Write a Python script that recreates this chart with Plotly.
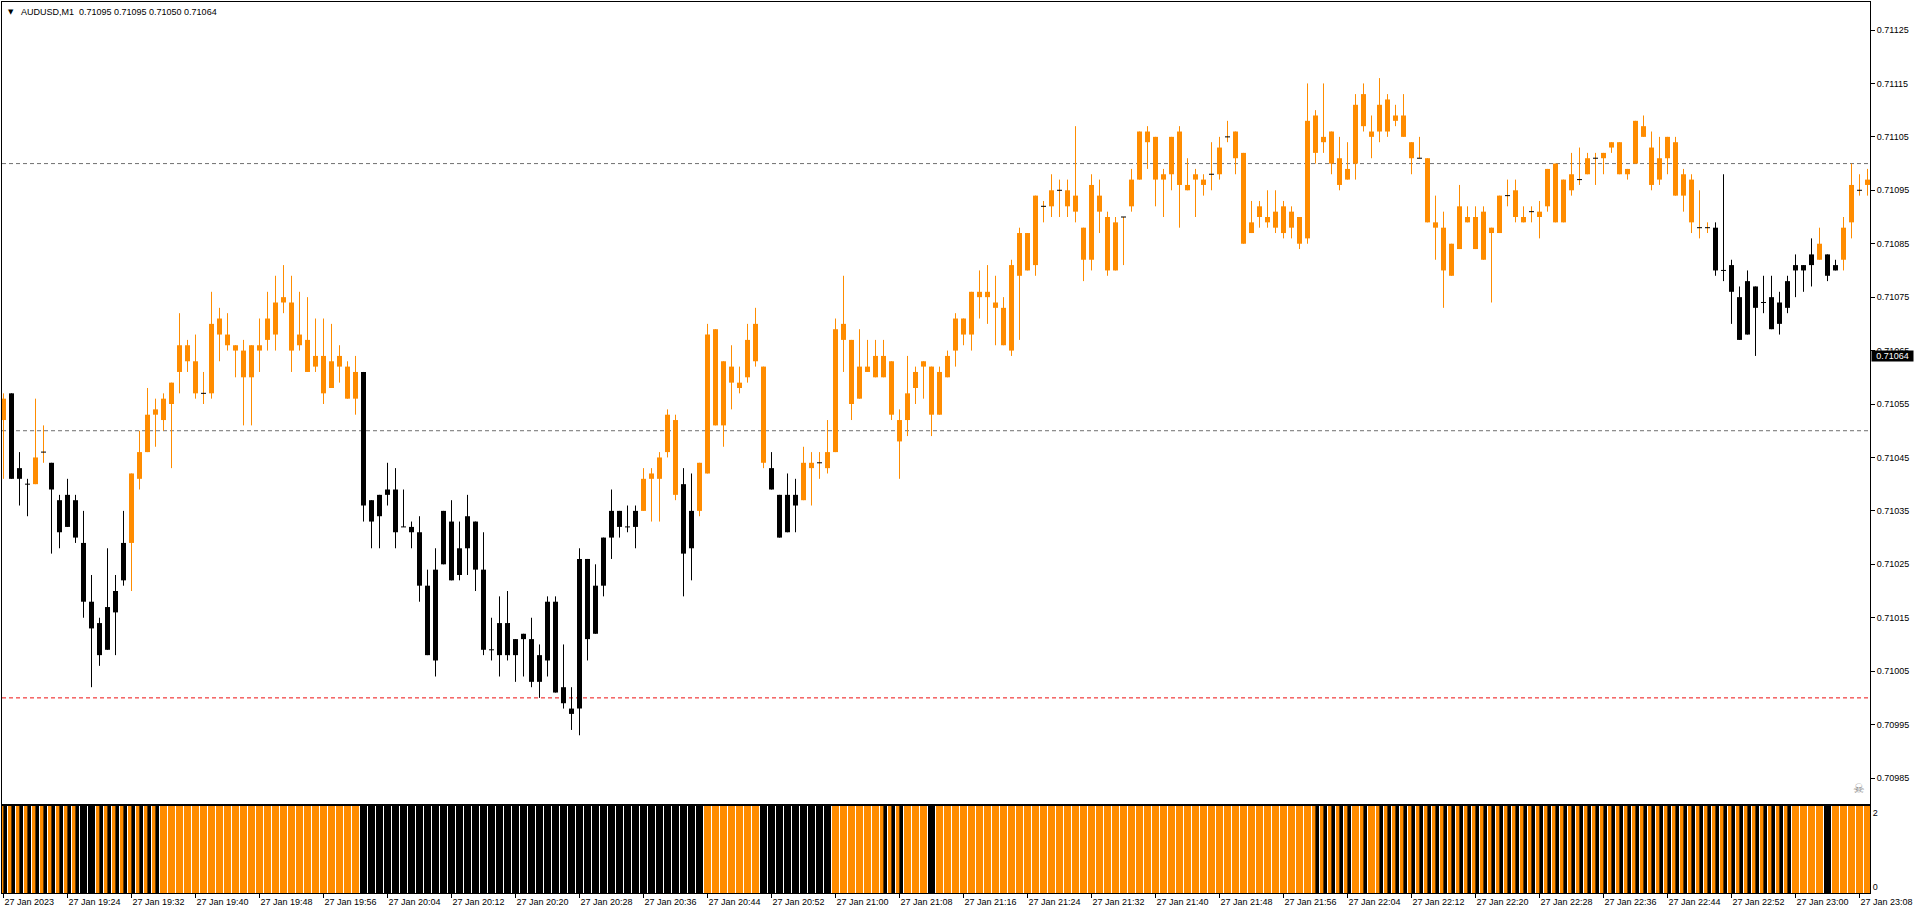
import pandas as pd
import plotly.graph_objects as go

# ---------------- data ----------------
header_symbol = "AUDUSD,M1"
header_values = "0.71095 0.71095 0.71050 0.71064"
start_time = "2023-01-27 19:16"
last_price = 0.71064

open_ = [
    0.71052, 0.71057, 0.71043, 0.71040, 0.71040, 0.71046, 0.71044, 0.71037, 0.71032, 0.71037,
    0.71029, 0.71018, 0.71014, 0.71009, 0.71016, 0.71022, 0.71029, 0.71041, 0.71046, 0.71053,
    0.71052, 0.71055, 0.71061, 0.71066, 0.71063, 0.71057, 0.71057, 0.71068, 0.71068, 0.71066,
    0.71065, 0.71060, 0.71066, 0.71067, 0.71068, 0.71074, 0.71074, 0.71066, 0.71067, 0.71062,
    0.71064, 0.71058, 0.71062, 0.71062, 0.71056, 0.71061, 0.71037, 0.71034, 0.71038, 0.71039,
    0.71032, 0.71032, 0.71031, 0.71021, 0.71007, 0.71025, 0.71033, 0.71023, 0.71028, 0.71033,
    0.71024, 0.71009, 0.71008, 0.71014, 0.71008, 0.71011, 0.71011, 0.71003, 0.71007, 0.71018,
    0.71002, 0.70998, 0.70998, 0.71026, 0.71012, 0.71021, 0.71030, 0.71035, 0.71032, 0.71032,
    0.71035, 0.71041, 0.71041, 0.71046, 0.71052, 0.71040, 0.71028, 0.71035, 0.71042, 0.71069,
    0.71051, 0.71062, 0.71059, 0.71060, 0.71063, 0.71062, 0.71043, 0.71038, 0.71031, 0.71038,
    0.71037, 0.71044, 0.71044, 0.71043, 0.71046, 0.71070, 0.71067, 0.71056, 0.71062, 0.71060,
    0.71064, 0.71063, 0.71052, 0.71052, 0.71058, 0.71062, 0.71062, 0.71053, 0.71060, 0.71065,
    0.71071, 0.71068, 0.71076, 0.71075, 0.71074, 0.71073, 0.71065, 0.71079, 0.71087, 0.71081,
    0.71092, 0.71092, 0.71095, 0.71095, 0.71091, 0.71088, 0.71082, 0.71094, 0.71090, 0.71080,
    0.71090, 0.71092, 0.71097, 0.71106, 0.71105, 0.71097, 0.71098, 0.71106, 0.71096, 0.71097,
    0.71097, 0.71098, 0.71098, 0.71105, 0.71106, 0.71102, 0.71087, 0.71090, 0.71090, 0.71088,
    0.71092, 0.71088, 0.71090, 0.71086, 0.71109, 0.71104, 0.71106, 0.71101, 0.71097, 0.71100,
    0.71113, 0.71106, 0.71106, 0.71112, 0.71108, 0.71109, 0.71104, 0.71101, 0.71101, 0.71089,
    0.71088, 0.71079, 0.71084, 0.71090, 0.71090, 0.71091, 0.71087, 0.71087, 0.71094, 0.71095,
    0.71090, 0.71091, 0.71091, 0.71092, 0.71100, 0.71089, 0.71095, 0.71097, 0.71098, 0.71101,
    0.71101, 0.71103, 0.71104, 0.71098, 0.71100, 0.71107, 0.71103, 0.71097, 0.71101, 0.71104,
    0.71098, 0.71097, 0.71088, 0.71088, 0.71088, 0.71080, 0.71081, 0.71075, 0.71068, 0.71077,
    0.71074, 0.71075, 0.71070, 0.71073, 0.71080, 0.71081, 0.71081, 0.71082, 0.71083, 0.71080,
    0.71082, 0.71089, 0.71095, 0.71096,
]

high = [
    0.71057, 0.71057, 0.71046, 0.71041, 0.71056, 0.71051, 0.71044, 0.71038, 0.71041, 0.71038,
    0.71035, 0.71023, 0.71015, 0.71028, 0.71023, 0.71035, 0.71042, 0.71050, 0.71058, 0.71056,
    0.71057, 0.71059, 0.71072, 0.71067, 0.71068, 0.71061, 0.71076, 0.71073, 0.71072, 0.71066,
    0.71067, 0.71066, 0.71071, 0.71076, 0.71079, 0.71081, 0.71079, 0.71076, 0.71075, 0.71071,
    0.71071, 0.71070, 0.71066, 0.71063, 0.71064, 0.71061, 0.71037, 0.71038, 0.71044, 0.71043,
    0.71039, 0.71033, 0.71034, 0.71024, 0.71028, 0.71035, 0.71037, 0.71033, 0.71038, 0.71033,
    0.71031, 0.71015, 0.71019, 0.71020, 0.71011, 0.71012, 0.71015, 0.71010, 0.71019, 0.71019,
    0.71010, 0.71002, 0.71028, 0.71026, 0.71025, 0.71030, 0.71039, 0.71035, 0.71036, 0.71036,
    0.71043, 0.71043, 0.71046, 0.71054, 0.71053, 0.71043, 0.71042, 0.71044, 0.71070, 0.71069,
    0.71063, 0.71066, 0.71062, 0.71070, 0.71073, 0.71062, 0.71046, 0.71038, 0.71042, 0.71041,
    0.71047, 0.71046, 0.71046, 0.71052, 0.71071, 0.71079, 0.71067, 0.71069, 0.71067, 0.71067,
    0.71067, 0.71063, 0.71054, 0.71064, 0.71062, 0.71063, 0.71062, 0.71062, 0.71065, 0.71072,
    0.71071, 0.71076, 0.71080, 0.71081, 0.71079, 0.71075, 0.71082, 0.71088, 0.71087, 0.71094,
    0.71093, 0.71098, 0.71097, 0.71097, 0.71107, 0.71088, 0.71098, 0.71097, 0.71091, 0.71090,
    0.71090, 0.71099, 0.71106, 0.71107, 0.71105, 0.71099, 0.71105, 0.71107, 0.71101, 0.71099,
    0.71098, 0.71104, 0.71105, 0.71108, 0.71106, 0.71102, 0.71093, 0.71093, 0.71095, 0.71095,
    0.71093, 0.71092, 0.71090, 0.71115, 0.71110, 0.71115, 0.71106, 0.71105, 0.71104, 0.71113,
    0.71115, 0.71109, 0.71116, 0.71113, 0.71111, 0.71113, 0.71104, 0.71105, 0.71101, 0.71094,
    0.71091, 0.71085, 0.71096, 0.71092, 0.71092, 0.71092, 0.71088, 0.71094, 0.71097, 0.71097,
    0.71092, 0.71092, 0.71093, 0.71099, 0.71100, 0.71097, 0.71102, 0.71103, 0.71102, 0.71102,
    0.71102, 0.71104, 0.71104, 0.71099, 0.71108, 0.71109, 0.71106, 0.71105, 0.71105, 0.71105,
    0.71099, 0.71098, 0.71095, 0.71089, 0.71089, 0.71098, 0.71082, 0.71077, 0.71080, 0.71077,
    0.71079, 0.71079, 0.71076, 0.71079, 0.71083, 0.71081, 0.71086, 0.71088, 0.71083, 0.71082,
    0.71090, 0.71100, 0.71098, 0.71099,
]

low = [
    0.71041, 0.71041, 0.71036, 0.71034, 0.71040, 0.71044, 0.71027, 0.71028, 0.71032, 0.71029,
    0.71015, 0.71002, 0.71006, 0.71009, 0.71008, 0.71021, 0.71020, 0.71039, 0.71046, 0.71047,
    0.71050, 0.71043, 0.71057, 0.71061, 0.71056, 0.71055, 0.71056, 0.71063, 0.71065, 0.71060,
    0.71051, 0.71051, 0.71061, 0.71065, 0.71065, 0.71072, 0.71061, 0.71065, 0.71061, 0.71061,
    0.71055, 0.71058, 0.71059, 0.71056, 0.71053, 0.71033, 0.71028, 0.71028, 0.71036, 0.71028,
    0.71032, 0.71028, 0.71018, 0.71008, 0.71004, 0.71025, 0.71022, 0.71022, 0.71023, 0.71020,
    0.71008, 0.71007, 0.71004, 0.71007, 0.71003, 0.71004, 0.71002, 0.71000, 0.71004, 0.71001,
    0.70998, 0.70994, 0.70993, 0.71007, 0.71012, 0.71019, 0.71026, 0.71030, 0.71031, 0.71028,
    0.71035, 0.71033, 0.71033, 0.71045, 0.71037, 0.71019, 0.71022, 0.71034, 0.71042, 0.71051,
    0.71047, 0.71054, 0.71057, 0.71059, 0.71062, 0.71043, 0.71039, 0.71030, 0.71031, 0.71031,
    0.71037, 0.71036, 0.71041, 0.71042, 0.71046, 0.71061, 0.71052, 0.71056, 0.71061, 0.71060,
    0.71060, 0.71052, 0.71041, 0.71049, 0.71055, 0.71056, 0.71049, 0.71053, 0.71060, 0.71062,
    0.71066, 0.71065, 0.71071, 0.71070, 0.71066, 0.71066, 0.71064, 0.71067, 0.71080, 0.71079,
    0.71089, 0.71090, 0.71090, 0.71090, 0.71089, 0.71078, 0.71080, 0.71087, 0.71079, 0.71080,
    0.71081, 0.71091, 0.71097, 0.71099, 0.71092, 0.71090, 0.71095, 0.71088, 0.71095, 0.71090,
    0.71094, 0.71095, 0.71097, 0.71104, 0.71098, 0.71085, 0.71087, 0.71088, 0.71088, 0.71087,
    0.71086, 0.71086, 0.71084, 0.71085, 0.71100, 0.71102, 0.71098, 0.71095, 0.71097, 0.71097,
    0.71106, 0.71101, 0.71104, 0.71105, 0.71107, 0.71105, 0.71098, 0.71101, 0.71089, 0.71082,
    0.71073, 0.71079, 0.71084, 0.71089, 0.71084, 0.71082, 0.71074, 0.71087, 0.71092, 0.71089,
    0.71089, 0.71089, 0.71086, 0.71091, 0.71089, 0.71089, 0.71094, 0.71096, 0.71098, 0.71096,
    0.71098, 0.71102, 0.71098, 0.71097, 0.71100, 0.71105, 0.71095, 0.71096, 0.71098, 0.71094,
    0.71091, 0.71087, 0.71086, 0.71087, 0.71079, 0.71078, 0.71070, 0.71067, 0.71068, 0.71064,
    0.71072, 0.71069, 0.71068, 0.71072, 0.71075, 0.71076, 0.71077, 0.71082, 0.71078, 0.71080,
    0.71080, 0.71086, 0.71094, 0.71094,
]

close = [
    0.71056, 0.71041, 0.71041, 0.71040, 0.71045, 0.71046, 0.71039, 0.71031, 0.71038, 0.71030,
    0.71018, 0.71013, 0.71008, 0.71017, 0.71020, 0.71029, 0.71042, 0.71046, 0.71053, 0.71054,
    0.71056, 0.71059, 0.71066, 0.71063, 0.71057, 0.71057, 0.71070, 0.71071, 0.71066, 0.71065,
    0.71060, 0.71066, 0.71065, 0.71071, 0.71074, 0.71075, 0.71065, 0.71068, 0.71061, 0.71064,
    0.71057, 0.71063, 0.71064, 0.71056, 0.71061, 0.71036, 0.71033, 0.71038, 0.71039, 0.71031,
    0.71032, 0.71031, 0.71021, 0.71008, 0.71024, 0.71035, 0.71022, 0.71028, 0.71034, 0.71024,
    0.71009, 0.71009, 0.71014, 0.71008, 0.71011, 0.71012, 0.71003, 0.71008, 0.71018, 0.71001,
    0.70999, 0.70997, 0.71026, 0.71011, 0.71021, 0.71030, 0.71035, 0.71032, 0.71032, 0.71035,
    0.71041, 0.71042, 0.71045, 0.71053, 0.71038, 0.71027, 0.71035, 0.71044, 0.71068, 0.71051,
    0.71063, 0.71059, 0.71058, 0.71067, 0.71070, 0.71044, 0.71039, 0.71030, 0.71038, 0.71036,
    0.71044, 0.71043, 0.71044, 0.71046, 0.71069, 0.71067, 0.71055, 0.71062, 0.71061, 0.71064,
    0.71060, 0.71053, 0.71048, 0.71057, 0.71061, 0.71063, 0.71053, 0.71061, 0.71064, 0.71071,
    0.71068, 0.71076, 0.71075, 0.71076, 0.71073, 0.71066, 0.71081, 0.71087, 0.71080, 0.71094,
    0.71092, 0.71095, 0.71095, 0.71092, 0.71094, 0.71082, 0.71096, 0.71091, 0.71080, 0.71089,
    0.71090, 0.71097, 0.71106, 0.71104, 0.71097, 0.71098, 0.71105, 0.71096, 0.71095, 0.71098,
    0.71096, 0.71098, 0.71103, 0.71105, 0.71101, 0.71085, 0.71089, 0.71092, 0.71089, 0.71091,
    0.71087, 0.71091, 0.71085, 0.71108, 0.71102, 0.71105, 0.71100, 0.71096, 0.71099, 0.71111,
    0.71107, 0.71105, 0.71111, 0.71106, 0.71109, 0.71105, 0.71101, 0.71101, 0.71089, 0.71088,
    0.71080, 0.71085, 0.71092, 0.71089, 0.71084, 0.71082, 0.71088, 0.71094, 0.71094, 0.71090,
    0.71089, 0.71091, 0.71090, 0.71099, 0.71089, 0.71097, 0.71098, 0.71097, 0.71101, 0.71101,
    0.71102, 0.71104, 0.71098, 0.71099, 0.71108, 0.71105, 0.71096, 0.71101, 0.71105, 0.71094,
    0.71094, 0.71089, 0.71088, 0.71088, 0.71080, 0.71080, 0.71076, 0.71067, 0.71078, 0.71073,
    0.71074, 0.71069, 0.71074, 0.71078, 0.71081, 0.71080, 0.71083, 0.71085, 0.71079, 0.71081,
    0.71088, 0.71096, 0.71095, 0.71097,
]

# indicator colouring of each candle: O = orange, B = black
candle_color = (
    "OBBBOOBBBB" "BBBBBBOOOO" "OOOOOOOOOO" "OOOOOOOOOO" "OOOOOBBBBB"
    "BBBBBBBBBB" "BBBBBBBBBB" "BBBBBBBBBB" "OOOOOBBOOO" "OOOOOOBBBB"
    "OOOOOOOOOO" "OOOOOOOOOO" "OOOOOOOOOO" "OOOOOOOOOO" "OOOOOOOOOO"
    "OOOOOOOOOO" "OOOOOOOOOO" "OOOOOOOOOO" "OOOOOOOOOO" "OOOOOOOOOO"
    "OOOOOOOOOO" "OOOOBBBBBB" "BBBBBBBOBB" "OOOO"
)

# lower indicator state per bar: 0 = orange, 1 = black, 2 = mixed (orange + black stripe)
osc_state = (
    "2222222222" "1122222222" "0000000000" "0000000000" "0000011111"
    "1111111111" "1111111111" "1111111111" "1111111100" "0000011111"
    "1111000000" "2220001000" "0000000000" "0000000000" "0000000000"
    "0000000000" "0000222220" "2022222222" "2222222222" "2222222222"
    "2222222222" "2222222222" "2222000010" "0000"
)
osc_level = 2

tick_labels = [
    "27 Jan 2023", "27 Jan 19:24", "27 Jan 19:32", "27 Jan 19:40", "27 Jan 19:48",
    "27 Jan 19:56", "27 Jan 20:04", "27 Jan 20:12", "27 Jan 20:20", "27 Jan 20:28",
    "27 Jan 20:36", "27 Jan 20:44", "27 Jan 20:52", "27 Jan 21:00", "27 Jan 21:08",
    "27 Jan 21:16", "27 Jan 21:24", "27 Jan 21:32", "27 Jan 21:40", "27 Jan 21:48",
    "27 Jan 21:56", "27 Jan 22:04", "27 Jan 22:12", "27 Jan 22:20", "27 Jan 22:28",
    "27 Jan 22:36", "27 Jan 22:44", "27 Jan 22:52", "27 Jan 23:00", "27 Jan 23:08",
]
price_ticks = [0.70985, 0.70995, 0.71005, 0.71015, 0.71025, 0.71035, 0.71045, 0.71055,
               0.71065, 0.71075, 0.71085, 0.71095, 0.71105, 0.71115, 0.71125]
levels = [0.71100, 0.71050, 0.71000]
level_colors = ["#6f6f6f", "#6f6f6f", "#ee1111"]

# ---------------- styling ----------------
ORANGE = "#FF8C00"
BLACK = "#000000"
COLORS = {"O": ORANGE, "B": BLACK}
FONT = "Liberation Sans, Arial, sans-serif"

n = len(open_)
times = pd.date_range(start_time, periods=n, freq="min")
MIN_MS = 60000.0
half_body = pd.Timedelta(milliseconds=0.3125 * MIN_MS)


def ts(t):
    return t.strftime("%Y-%m-%d %H:%M:%S.%f")[:-3]


fig = go.Figure()

# candles
for key, col in COLORS.items():
    idx = [i for i in range(n) if candle_color[i] == key]
    wx, wy = [], []
    for i in idx:
        wx += [ts(times[i]), ts(times[i]), None]
        wy += [low[i], high[i], None]
    fig.add_trace(go.Scatter(x=wx, y=wy, mode="lines", line=dict(color=col, width=1),
                             hoverinfo="skip", xaxis="x", yaxis="y"))
    bidx = [i for i in idx if open_[i] != close[i]]
    fig.add_trace(go.Bar(
        x=[ts(times[i]) for i in bidx],
        base=[min(open_[i], close[i]) for i in bidx],
        y=[abs(close[i] - open_[i]) for i in bidx],
        width=0.625 * MIN_MS,
        marker=dict(color=col, line=dict(width=0)),
        hoverinfo="skip", xaxis="x", yaxis="y"))

# doji dashes
dx, dy = [], []
for i in range(n):
    if open_[i] == close[i]:
        dx += [ts(times[i] - half_body), ts(times[i] + half_body), None]
        dy += [open_[i], open_[i], None]
fig.add_trace(go.Scatter(x=dx, y=dy, mode="lines", line=dict(color=BLACK, width=1),
                         hoverinfo="skip", xaxis="x", yaxis="y"))

# lower indicator panel
o_idx = [i for i in range(n) if osc_state[i] in "02"]
b_idx = [i for i in range(n) if osc_state[i] == "1"]
s_idx = [i for i in range(n) if osc_state[i] == "2"]
fig.add_trace(go.Bar(x=[ts(times[i]) for i in o_idx], y=[osc_level] * len(o_idx),
                     width=0.875 * MIN_MS, marker=dict(color=ORANGE, line=dict(width=0)),
                     hoverinfo="skip", xaxis="x2", yaxis="y2"))
fig.add_trace(go.Bar(x=[ts(times[i]) for i in b_idx], y=[osc_level] * len(b_idx),
                     width=0.875 * MIN_MS, marker=dict(color=BLACK, line=dict(width=0)),
                     hoverinfo="skip", xaxis="x2", yaxis="y2"))
fig.add_trace(go.Bar(x=[ts(times[i]) for i in s_idx], y=[osc_level] * len(s_idx),
                     width=0.45 * MIN_MS, offset=-0.0125 * MIN_MS,
                     marker=dict(color=BLACK, line=dict(width=0)),
                     hoverinfo="skip", xaxis="x2", yaxis="y2"))

x_range = [ts(times[0] - pd.Timedelta(milliseconds=0.1875 * MIN_MS)),
           ts(times[0] + pd.Timedelta(milliseconds=233.3125 * MIN_MS))]

shapes = []
for lv, lc in zip(levels, level_colors):
    shapes.append(dict(type="line", xref="paper", x0=0, x1=1, yref="y", y0=lv, y1=lv,
                       line=dict(color=lc, width=1, dash="4px,3px"), layer="below"))

axis_common = dict(showgrid=False, zeroline=False, showline=True, mirror=True,
                   linecolor="black", linewidth=1, fixedrange=True, automargin=False)

fig.update_layout(
    width=1916, height=915,
    margin=dict(l=2, r=46, t=2, b=22, pad=0),
    paper_bgcolor="white", plot_bgcolor="white",
    barmode="overlay", showlegend=False,
    font=dict(family=FONT, size=9, color="black"),
    xaxis=dict(type="date", domain=[0, 1], range=x_range, anchor="y",
               showticklabels=False, ticks="", **axis_common),
    yaxis=dict(domain=[0.09989, 1], range=[0.7098014, 0.7113024], side="right", anchor="x",
               tickvals=price_ticks, tickformat=".5f", ticks="outside", ticklen=4,
               tickcolor="black", **axis_common),
    xaxis2=dict(type="date", domain=[0, 1], range=x_range, anchor="y2", matches="x",
                tickvals=[ts(times[k]) for k in range(0, n, 8)], ticktext=tick_labels,
                ticks="outside", ticklen=4, tickcolor="black",
                ticklabelposition="outside right", **axis_common),
    yaxis2=dict(domain=[0, 0.09764], range=[0, 2], side="right", anchor="x2",
                tickvals=[0.138, 1.839], ticktext=["0", "2"], ticks="", **axis_common),
    shapes=shapes,
    annotations=[
        dict(text="\u25BC", xref="paper", yref="paper", x=0, y=1, xanchor="left",
             yanchor="top", xshift=4, yshift=-4, showarrow=False,
             font=dict(family="DejaVu Sans", size=7, color="black")),
        dict(text=header_symbol + "\u00a0\u00a0" + header_values, xref="paper", yref="paper",
             x=0, y=1, xanchor="left", yanchor="top", xshift=17, yshift=-3,
             showarrow=False, font=dict(family=FONT, size=9, color="black")),
        dict(text=f"{last_price:.5f}", xref="paper", yref="y", x=1, y=last_price,
             xanchor="left", yanchor="middle", xshift=1, showarrow=False,
             width=41, height=10, bgcolor="black", borderpad=0,
             font=dict(family=FONT, size=9, color="white")),
        dict(text="\u2620", xref="paper", yref="paper", x=0.9941, y=0.1178,
             xanchor="center", yanchor="middle", showarrow=False,
             font=dict(family="DejaVu Sans", size=13, color="#8a8a8a")),
    ],
)

fig.write_html("out.html", config={"displayModeBar": False},
               post_script="document.body.style.margin='0';document.body.style.overflow='hidden';")
